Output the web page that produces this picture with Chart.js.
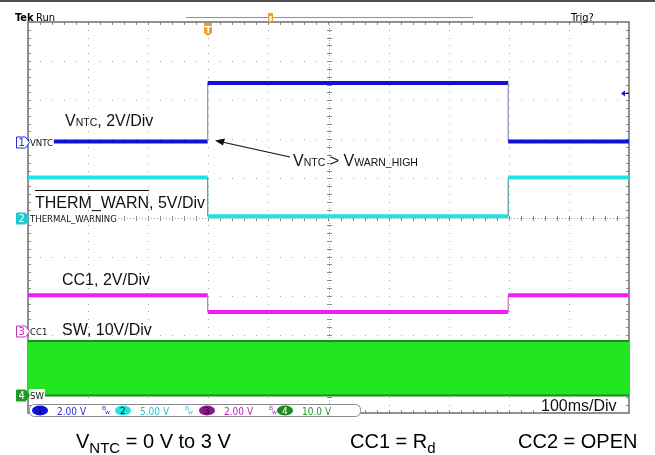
<!DOCTYPE html>
<html>
<head>
<meta charset="utf-8">
<script src="https://cdn.jsdelivr.net/npm/chart.js@4.4.1/dist/chart.umd.min.js"></script>
<style>
  html, body { margin: 0; padding: 0; background: #fff; }
  #wrap { position: relative; width: 655px; height: 455px; overflow: hidden; }
  #scope { position: absolute; left: 0; top: 0; }
  .cap { position: absolute; top: 431px; line-height: 20px; font-family: 'Liberation Sans', Arial, sans-serif; font-size: 20px; color: #000; white-space: nowrap; }
  .cap sub { font-size: 15px; vertical-align: -5px; line-height: 0; }
</style>
</head>
<body>
<div id="wrap">
  <canvas id="scope" width="655" height="455"></canvas>
  <div class="cap" style="left:76px">V<sub>NTC</sub> = 0 V to 3 V</div>
  <div class="cap" style="left:350px">CC1 = R<sub>d</sub></div>
  <div class="cap" style="left:518px">CC2 = OPEN</div>
</div>
<script>
// time base 100 ms/div, 10 divisions
const gridTimes = [0, 100, 200, 300, 400, 500, 600, 700, 800, 900, 1000];
const gridDivs = [-5, -4, -3, -2, -1, 0, 1, 2, 3, 4, 5];

// step traces (ms, volts)
const timeMs = [0, 299, 299, 799, 799, 1000];
const vntcVolts = [0.03, 0.03, 3.02, 3.02, 0.03, 0.03];
const thermWarnVolts = [5.1, 5.1, 0.15, 0.15, 5.1, 5.1];
const cc1Volts = [1.82, 1.82, 0.97, 0.97, 1.82, 1.82];

// switching node envelope
const swTimeMs = [0, 1000];
const swHighVolts = [13.9, 13.9];
const swLowVolts = [0, 0];

// channel settings
const chNames = ['VNTC', 'THERMAL_WARNING', 'CC1', 'SW'];
const voltsPerDiv = [2, 5, 2, 10];
const readoutLabels = ['2.00 V', '5.00 V', '2.00 V', '10.0 V'];
const chPos = [1.93, 0, -2.9, -4.55];   // ground marker, divisions above centre
const chColors = ['#1212d6', '#1ee3e6', '#f21df0', '#22e622'];
const edgeColors = ['#8c8cc4', '#4f9c9c', '#c070c0', '#1d8a1d'];

function chScale(i) {
  return {
    type: 'linear', axis: 'y', display: false,
    min: (-5 - chPos[i]) * voltsPerDiv[i],
    max: (5 - chPos[i]) * voltsPerDiv[i]
  };
}

function pts(xs, ys) {
  return xs.map((t, i) => ({ x: t, y: ys[i] }));
}

function stepTrace(label, axis, values, ch) {
  return {
    label: label,
    yAxisID: axis,
    data: pts(timeMs, values),
    borderColor: chColors[ch],
    borderWidth: 4,
    pointRadius: 0,
    segment: {
      borderWidth: c => c.p0.parsed.x === c.p1.parsed.x ? 1.2 : undefined,
      borderColor: c => c.p0.parsed.x === c.p1.parsed.x ? edgeColors[ch] : undefined
    }
  };
}

function runs(ctx, x, y, parts) {
  parts.forEach(p => {
    ctx.font = p[1] + 'px "Liberation Sans", Arial, sans-serif';
    ctx.fillText(p[0], x, y);
    x += ctx.measureText(p[0]).width;
  });
  return x;
}

function chMarker(ctx, x, y, n, color, filled) {
  ctx.beginPath();
  ctx.moveTo(x, y - 5.5);
  ctx.lineTo(x + 9, y - 5.5);
  ctx.lineTo(x + 13, y);
  ctx.lineTo(x + 9, y + 5.5);
  ctx.lineTo(x, y + 5.5);
  ctx.closePath();
  ctx.fillStyle = filled ? color : '#fff';
  ctx.fill();
  ctx.strokeStyle = color;
  ctx.lineWidth = 1;
  ctx.stroke();
  ctx.fillStyle = filled ? '#fff' : color;
  ctx.font = '10px "DejaVu Sans", sans-serif';
  ctx.textBaseline = 'middle';
  ctx.fillText(String(n), x + 2, y + 0.5);
  ctx.textBaseline = 'alphabetic';
}

const scopeScreen = {
  id: 'scopeScreen',
  beforeDatasetsDraw(chart) {
    const { ctx, chartArea: a, scales } = chart;
    const x = scales.x, d = scales.div;
    const minorX = (x.getPixelForValue(100) - x.getPixelForValue(0)) / 5;
    const minorY = (d.getPixelForValue(0) - d.getPixelForValue(1)) / 5;
    ctx.save();
    ctx.fillStyle = '#a6a6a6';
    gridTimes.forEach(t => {
      if (t === 0 || t === 500 || t === 1000) return;
      const px = Math.round(x.getPixelForValue(t));
      for (let y = a.top + minorY; y < a.bottom - 1; y += minorY) ctx.fillRect(px, Math.round(y), 1, 1);
    });
    gridDivs.forEach(v => {
      if (v === 0 || v === -5 || v === 5) return;
      const py = Math.round(d.getPixelForValue(v));
      for (let xx = a.left + minorX; xx < a.right - 1; xx += minorX) ctx.fillRect(Math.round(xx), py, 1, 1);
    });
    // centre cross with minor ticks
    const cx = Math.round(x.getPixelForValue(500)) + 0.5;
    const cy = Math.round(d.getPixelForValue(0)) + 0.5;
    ctx.strokeStyle = '#a0a0a0';
    ctx.lineWidth = 1;
    ctx.setLineDash([1, 2]);
    ctx.beginPath();
    ctx.moveTo(cx, a.top); ctx.lineTo(cx, a.bottom);
    ctx.moveTo(a.left, cy); ctx.lineTo(a.right, cy);
    ctx.stroke();
    ctx.setLineDash([]);
    ctx.strokeStyle = '#8a8a8a';
    ctx.beginPath();
    for (let y = a.top + minorY; y < a.bottom - 1; y += minorY) {
      const yy = Math.round(y) + 0.5;
      ctx.moveTo(cx - 2.5, yy); ctx.lineTo(cx + 2.5, yy);
      ctx.moveTo(a.left, yy); ctx.lineTo(a.left + 3, yy);
      ctx.moveTo(a.right, yy); ctx.lineTo(a.right - 3, yy);
    }
    for (let xx = a.left + minorX; xx < a.right - 1; xx += minorX) {
      const px = Math.round(xx) + 0.5;
      ctx.moveTo(px, cy - 2.5); ctx.lineTo(px, cy + 2.5);
      ctx.moveTo(px, a.top); ctx.lineTo(px, a.top + 3);
      ctx.moveTo(px, a.bottom); ctx.lineTo(px, a.bottom - 3);
    }
    ctx.stroke();
    // frame
    ctx.strokeStyle = '#6e6e6e';
    ctx.lineWidth = 1.5;
    ctx.strokeRect(a.left, a.top, a.right - a.left, a.bottom - a.top);
    ctx.restore();
  },
  afterDatasetsDraw(chart) {
    const { ctx, chartArea: a, scales } = chart;
    const x = scales.x;
    ctx.save();

    // top bar
    ctx.fillStyle = '#505050';
    ctx.fillRect(0, 0, 655, 2);
    ctx.fillStyle = '#000';
    ctx.font = 'bold 11px "DejaVu Sans Condensed", "DejaVu Sans", sans-serif';
    ctx.fillText('Tek', 15, 21);
    ctx.font = '11px "DejaVu Sans Condensed", "DejaVu Sans", sans-serif';
    ctx.fillText('Run', 36, 21);
    ctx.fillText('Trig?', 571, 21);
    ctx.strokeStyle = '#5cb85c';
    ctx.lineWidth = 1;
    ctx.beginPath(); ctx.moveTo(186, 17.5); ctx.lineTo(473, 17.5); ctx.stroke();
    // record position marker and trigger marker
    ctx.fillStyle = '#f0a21e';
    ctx.fillRect(268, 13, 5, 9);
    ctx.fillStyle = '#fff';
    ctx.fillRect(269.5, 16, 2, 5);
    const tx = Math.round(x.getPixelForValue(300));
    ctx.fillStyle = '#f0a21e';
    ctx.fillRect(tx - 4, 23, 8, 3);
    ctx.beginPath();
    ctx.moveTo(tx - 4, 27); ctx.lineTo(tx + 4, 27); ctx.lineTo(tx + 4, 33);
    ctx.lineTo(tx, 36); ctx.lineTo(tx - 4, 33); ctx.closePath(); ctx.fill();
    ctx.fillStyle = '#fff';
    ctx.font = 'bold 8px "DejaVu Sans", sans-serif';
    ctx.fillText('T', tx - 2.5, 33);

    // trigger level arrow (ch1)
    const ly = Math.round(scales.ch1.getPixelForValue(2.5)) + 0.5;
    ctx.fillStyle = chColors[0];
    ctx.beginPath(); ctx.moveTo(621, ly); ctx.lineTo(625, ly - 3); ctx.lineTo(625, ly + 3); ctx.closePath(); ctx.fill();
    ctx.strokeStyle = chColors[0];
    ctx.beginPath(); ctx.moveTo(624, ly); ctx.lineTo(629, ly); ctx.stroke();

    // channel ground markers and names
    const axes = ['ch1', 'ch2', 'ch3', 'ch4'];
    const markColors = ['#2a2ae0', '#1fc9d2', '#c22ec0', '#1f9a1f'];
    axes.forEach((id, i) => {
      const gy = Math.round(scales[id].getPixelForValue(0));
      ctx.font = '9.5px "DejaVu Sans Condensed", "DejaVu Sans", sans-serif';
      const w = ctx.measureText(chNames[i]).width;
      ctx.fillStyle = '#fff';
      ctx.fillRect(29, gy - 6, w + 2, 12);
      ctx.fillStyle = '#111';
      ctx.fillText(chNames[i], 30, gy + 4);
      chMarker(ctx, 16.5, gy + 0.5, i + 1, markColors[i], i === 1 || i === 3);
    });

    // annotations
    ctx.fillStyle = '#111';
    runs(ctx, 65, 126, [['V', 16], ['NTC', 10.5], [', 2V/Div', 16]]);
    const ow = runs(ctx, 35, 208, [['THERM_WARN', 16]]);
    runs(ctx, ow, 208, [[', 5V/Div', 16]]);
    ctx.fillRect(35, 190, ow - 35, 1);
    runs(ctx, 62, 285, [['CC1, 2V/Div', 16]]);
    runs(ctx, 62, 335, [['SW, 10V/Div', 16]]);
    runs(ctx, 293, 166, [['V', 16], ['NTC', 10.5], [' > ', 16], ['V', 16], ['WARN_HIGH', 10.5]]);
    // arrow pointing at the rising edge
    ctx.strokeStyle = '#111';
    ctx.lineWidth = 1.2;
    ctx.beginPath(); ctx.moveTo(290, 157); ctx.lineTo(222, 142); ctx.stroke();
    ctx.beginPath();
    ctx.moveTo(215, 140.5); ctx.lineTo(225, 138.5); ctx.lineTo(223, 145.5); ctx.closePath(); ctx.fill();

    // time base
    ctx.fillStyle = '#fff';
    ctx.fillRect(538, 398, 86, 14);
    ctx.fillStyle = '#111';
    runs(ctx, 541, 411, [['100ms/Div', 16]]);

    // channel readout
    ctx.fillStyle = '#fff';
    ctx.strokeStyle = '#8c8c8c';
    ctx.lineWidth = 1;
    ctx.beginPath();
    ctx.roundRect(29.5, 404.5, 331, 12, 5);
    ctx.fill(); ctx.stroke();
    const ellX = [32, 115, 199, 277];
    const ellColors = ['#1212d6', '#1ee3e6', '#8c168c', '#1a8a1a'];
    const txtColors = ['#2a2ae0', '#1fc9d2', '#c21ec0', '#1f9a1f'];
    readoutLabels.forEach((lab, i) => {
      ctx.fillStyle = ellColors[i];
      ctx.beginPath();
      ctx.ellipse(ellX[i] + 8, 410.5, 8, 5, 0, 0, Math.PI * 2);
      ctx.fill();
      ctx.fillStyle = (i === 3) ? '#fff' : '#111';
      ctx.font = '9px "DejaVu Sans", sans-serif';
      ctx.fillText(String(i + 1), ellX[i] + 5, 414);
      ctx.fillStyle = txtColors[i];
      ctx.font = '10px "DejaVu Sans Condensed", "DejaVu Sans", sans-serif';
      ctx.fillText(lab, ellX[i] + 25, 414.5);
      if (i < 3) {
        ctx.font = '6px "DejaVu Sans", sans-serif';
        ctx.fillText('B', ellX[i] + 70, 410);
        ctx.fillText('w', ellX[i] + 73, 414);
      }
    });
    ctx.restore();
  }
};

new Chart(document.getElementById('scope'), {
  type: 'line',
  data: {
    datasets: [
      stepTrace('VNTC', 'ch1', vntcVolts, 0),
      stepTrace('THERM_WARN', 'ch2', thermWarnVolts, 1),
      stepTrace('CC1', 'ch3', cc1Volts, 2),
      {
        label: 'SW low',
        yAxisID: 'ch4',
        data: pts(swTimeMs, swLowVolts),
        borderColor: edgeColors[3],
        borderWidth: 2,
        pointRadius: 0,
        fill: false
      },
      {
        label: 'SW high',
        yAxisID: 'ch4',
        data: pts(swTimeMs, swHighVolts),
        borderColor: edgeColors[3],
        borderWidth: 2,
        pointRadius: 0,
        backgroundColor: chColors[3],
        fill: '-1'
      }
    ]
  },
  options: {
    responsive: false,
    animation: false,
    events: [],
    layout: { padding: { left: 28, right: 26, top: 22, bottom: 42 } },
    plugins: { legend: { display: false }, tooltip: { enabled: false } },
    scales: {
      x: { type: 'linear', display: false, min: 0, max: 1000 },
      div: { type: 'linear', axis: 'y', display: false, min: -5, max: 5 },
      ch1: chScale(0),
      ch2: chScale(1),
      ch3: chScale(2),
      ch4: chScale(3)
    }
  },
  plugins: [scopeScreen]
});
</script>
</body>
</html>
